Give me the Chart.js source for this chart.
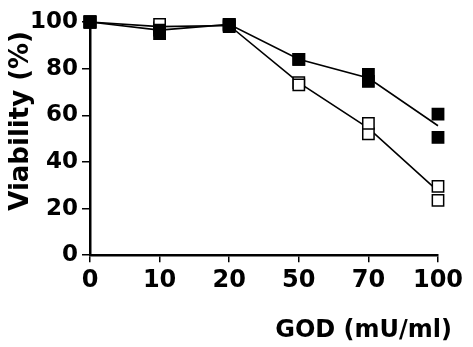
<!DOCTYPE html>
<html>
<head>
<meta charset="utf-8">
<script src="https://cdn.jsdelivr.net/npm/chart.js@4.4.1/dist/chart.umd.min.js"></script>
<style>
  html, body { margin: 0; padding: 0; background: #fff; }
  #wrap { width: 473px; height: 347px; }
</style>
</head>
<body>
<div id="wrap"><canvas id="myChart" width="473" height="347"></canvas></div>
<script>
// Data for the chart
const doses = ['0', '10', '20', '50', '70', '100'];

// filled squares: two replicates and the line through them
const filledRep1 = [100, 95, 98.5, 84, 77.5, 60.5];
const filledRep2 = [100, 96.5, 99, 84, 74.5, 50.5];
const filledLine = [100, 96.5, 99, 84, 76, 55.5];

// open squares: two replicates and the line through them
const openRep1 = [100, 99, 99, 73, 56.5, 29.5];
const openRep2 = [100, 97.5, 98, 74, 52, 23.5];
const openLine = [100, 98, 98.5, 74, 54.5, 27.5];

const yTicks = [0, 20, 40, 60, 80, 100];

const FONT = 'DejaVu Sans';

function markers(data, fill) {
    return {
        data: data,
        showLine: false,
        pointStyle: 'rect',
        pointRadius: 8,
        pointHoverRadius: 8,
        pointBackgroundColor: fill,
        pointBorderColor: '#000',
        pointBorderWidth: 1.5,
        clip: false,
        order: 1
    };
}

function meanLine(data) {
    return {
        data: data,
        borderColor: '#000',
        borderWidth: 1.6,
        pointRadius: 0,
        tension: 0,
        fill: false,
        clip: false,
        order: 2
    };
}

function createChart() {
    const ctx = document.getElementById('myChart').getContext('2d');
    new Chart(ctx, {
        type: 'line',
        data: {
            labels: doses,
            datasets: [
                markers(filledRep1, '#000'),
                markers(filledRep2, '#000'),
                markers(openRep1, '#fff'),
                markers(openRep2, '#fff'),
                meanLine(filledLine),
                meanLine(openLine)
            ]
        },
        options: {
            responsive: false,
            animation: false,
            layout: { padding: { left: 0, right: 21, top: 22, bottom: 0 } },
            plugins: {
                legend: { display: false },
                tooltip: { enabled: false },
                // x axis title sits under the axis, right aligned past the last tick
                title: {
                    display: true,
                    position: 'bottom',
                    align: 'end',
                    text: 'GOD (mU/ml)',
                    color: '#000',
                    padding: { top: 0, bottom: 2 },
                    font: { family: FONT, size: 24, weight: 'bold' }
                }
            },
            scales: {
                x: {
                    offset: false,
                    grid: { drawOnChartArea: false, tickLength: 7, color: '#000', lineWidth: 1.5 },
                    border: { color: '#000', width: 2.5 },
                    ticks: {
                        color: '#000',
                        padding: 4,
                        maxRotation: 0,
                        font: { family: FONT, size: 24, weight: 'bold' }
                    },
                    afterFit: function (scale) {
                        scale.height = 61;
                        scale.paddingRight = 35;
                    }
                },
                y: {
                    min: 0,
                    max: 100,
                    afterBuildTicks: function (scale) {
                        scale.ticks = yTicks.map(v => ({ value: v }));
                    },
                    grid: { drawOnChartArea: false, tickLength: 8, color: '#000', lineWidth: 1.5 },
                    border: { color: '#000', width: 2.5 },
                    ticks: {
                        color: '#000',
                        padding: 4,
                        font: { family: FONT, size: 23, weight: 'bold' }
                    },
                    title: {
                        display: true,
                        // trailing space keeps the top end clear of the "100" label
                        text: 'Viability (%) ',
                        align: 'end',
                        color: '#000',
                        padding: { top: 6, bottom: 0 },
                        font: { family: FONT, size: 26, weight: 'bold' }
                    },
                    afterFit: function (scale) { scale.width = 90; }
                }
            }
        }
    });
}

window.onload = createChart;
</script>
</body>
</html>
